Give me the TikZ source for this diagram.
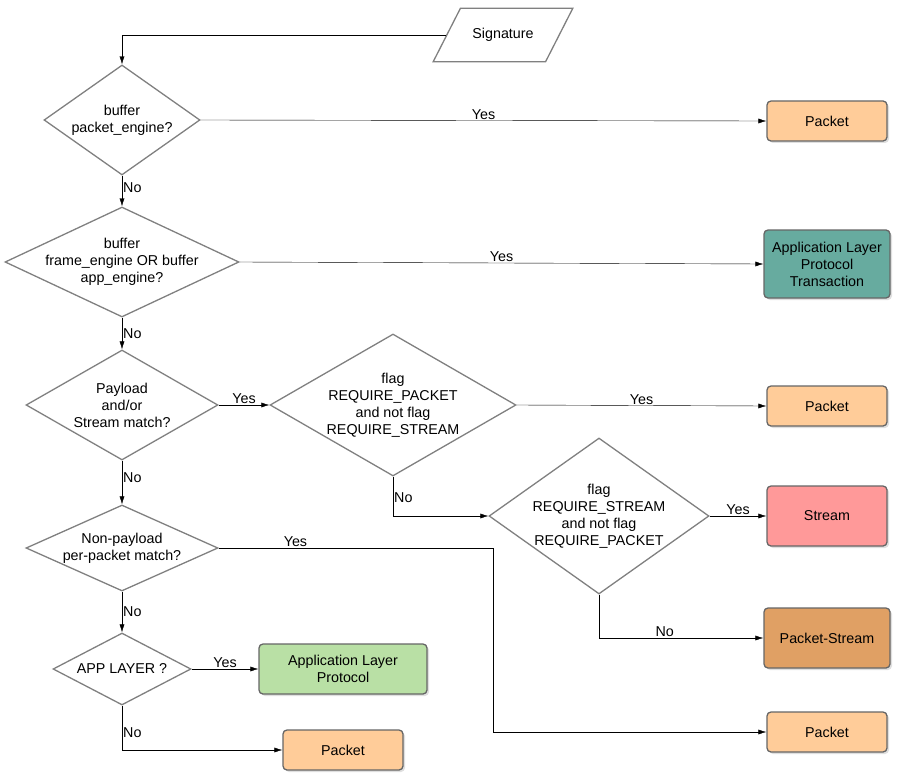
\documentclass[tikz,border=0pt]{standalone}
\usepackage{fontspec}
\setmainfont{Liberation Sans}
\usetikzlibrary{shapes.geometric,arrows.meta,shadows}
\definecolor{cpacket}{HTML}{FFCC99}
\definecolor{calpt}{HTML}{67AB9F}
\definecolor{cstream}{HTML}{FF9999}
\definecolor{cpstream}{HTML}{E0A064}
\definecolor{calp}{HTML}{B9E0A5}
\begin{document}
\begin{tikzpicture}[x=1pt,y=-1pt,
  font=\fontsize{14.3}{17}\selectfont,
  dia/.style={diamond,draw=gray,line width=1.3pt,fill=white,inner sep=0pt},
  box/.style={rectangle,rounded corners=4pt,draw=gray!80!black,line width=1.3pt,
    align=center,drop shadow={opacity=0.25,shadow xshift=2pt,shadow yshift=-2pt}},
  flow/.style={-{Latex[length=8pt,width=5pt]},thin},
  lab/.style={inner sep=1pt}]

  \useasboundingbox (0,0) rectangle (899,778);

  \node[trapezium,trapezium left angle=63,trapezium right angle=117,draw=gray,
    line width=1.3pt,inner xsep=12pt,inner ysep=20pt,fill=white] (sig) at (503,35) {Signature};

  % decisions
  \node[dia,minimum width=156,minimum height=110] (d1) at (122,120) {};
  \node[align=center] at (d1) {buffer\\packet\_engine?};
  \node[dia,minimum width=234,minimum height=110] (d2) at (122,262) {};
  \node[align=center] at (d2) {buffer\\frame\_engine OR buffer\\app\_engine?};
  \node[dia,minimum width=192,minimum height=110] (d3) at (122,405) {};
  \node[align=center] at (d3) {Payload\\and/or\\Stream match?};
  \node[dia,minimum width=246,minimum height=142] (d4) at (393,405) {};
  \node[align=center] at (d4) {flag\\REQUIRE\_PACKET\\and not flag\\REQUIRE\_STREAM};
  \node[dia,minimum width=220,minimum height=156] (d5) at (599,516) {};
  \node[align=center] at (d5) {flag\\REQUIRE\_STREAM\\and not flag\\REQUIRE\_PACKET};
  \node[dia,minimum width=192,minimum height=86] (d6) at (122,548) {};
  \node[align=center] at (d6) {Non-payload\\per-packet match?};
  \node[dia,minimum width=138,minimum height=72] (d7) at (122,669) {};
  \node at (d7) {APP LAYER ?};

  % results
  \node[box,fill=cpacket,minimum width=120,minimum height=40] (p1) at (827,121) {Packet};
  \node[box,fill=calpt,minimum width=126,minimum height=68] (alpt) at (827,264) {Application Layer\\Protocol\\Transaction};
  \node[box,fill=cpacket,minimum width=120,minimum height=40] (p2) at (827,406) {Packet};
  \node[box,fill=cstream,minimum width=120,minimum height=60] (st) at (827,516) {Stream};
  \node[box,fill=cpstream,minimum width=126,minimum height=60] (pst) at (827,638) {Packet-Stream};
  \node[box,fill=calp,minimum width=168,minimum height=50] (alp) at (343,669) {Application Layer\\Protocol};
  \node[box,fill=cpacket,minimum width=120,minimum height=40] (p3) at (343,750) {Packet};
  \node[box,fill=cpacket,minimum width=120,minimum height=40] (p4) at (827,732) {Packet};

  % connectors
  \draw[flow] (sig.west) -| (d1.north);
  \draw[flow] (d1.east) -- node[lab,above,pos=0.5]{Yes} (p1.west);
  \draw[flow] (d1.south) -- node[lab,right,pos=0.4]{No} (d2.north);
  \draw[flow] (d2.east) -- node[lab,above]{Yes} (alpt.west);
  \draw[flow] (d2.south) -- node[lab,right,pos=0.5]{No} (d3.north);
  \draw[flow] (d3.east) -- node[lab,above]{Yes} (d4.west);
  \draw[flow] (d4.east) -- node[lab,above]{Yes} (p2.west);
  \draw[flow] (d4.south) |- node[lab,right,pos=0.27]{No} (d5.west);
  \draw[flow] (d5.east) -- node[lab,above]{Yes} (st.west);
  \draw[flow] (d5.south) |- node[lab,above,pos=0.7]{No} (pst.west);
  \draw[flow] (d3.south) -- node[lab,right,pos=0.4]{No} (d6.north);
  \draw[flow] (d6.east) -- node[lab,above,pos=0.28]{Yes} (493,548) |- (p4.west);
  \draw[flow] (d6.south) -- node[lab,right,pos=0.5]{No} (d7.north);
  \draw[flow] (d7.east) -- node[lab,above]{Yes} (alp.west);
  \draw[flow] (d7.south) |- node[lab,right,pos=0.3]{No} (p3.west);
\end{tikzpicture}
\end{document}
